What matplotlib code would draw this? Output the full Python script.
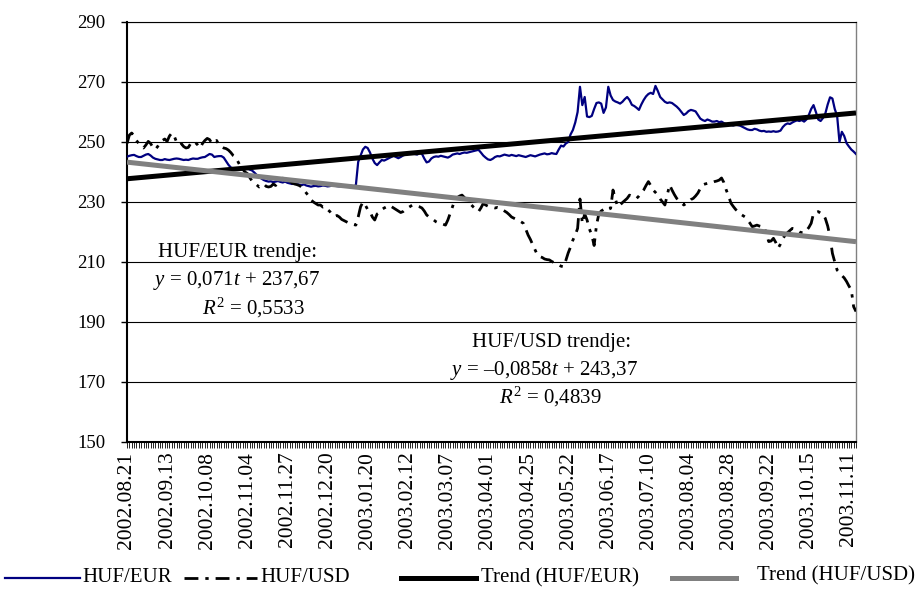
import numpy as np
import matplotlib
matplotlib.use("Agg")
import matplotlib.pyplot as plt
from matplotlib.lines import Line2D

plt.rcParams['font.family'] = ['Liberation Serif', 'DejaVu Serif']
plt.rcParams['mathtext.fontset'] = 'custom'
plt.rcParams['mathtext.rm'] = 'Liberation Serif'
plt.rcParams['mathtext.it'] = 'Liberation Serif:italic'

# ---------------- data ----------------
tick_labels = ["2002.08.21", "2002.09.13", "2002.10.08", "2002.11.04", "2002.11.27",
               "2002.12.20", "2003.01.20", "2003.02.12", "2003.03.07", "2003.04.01",
               "2003.04.25", "2003.05.22", "2003.06.17", "2003.07.10", "2003.08.04",
               "2003.08.28", "2003.09.22", "2003.10.15", "2003.11.11"]
label_step = 17

huf_eur = [
    245.1, 245.4, 245.6, 245.7, 245.3, 245.0, 245.0, 245.4, 245.8, 246.0,
    245.5, 244.8, 244.4, 244.2, 244.0, 244.0, 244.3, 244.1, 244.0, 244.2,
    244.4, 244.5, 244.4, 244.2, 244.0, 244.1, 244.0, 244.3, 244.5, 244.4,
    244.4, 244.7, 244.9, 245.0, 245.5, 246.0, 245.8, 245.0, 245.2, 245.3,
    245.3, 244.8, 243.6, 242.4, 241.5, 241.2, 241.0, 241.3, 241.1, 240.9,
    241.0, 241.2, 240.8, 240.5, 239.8, 239.0, 238.3, 237.8, 237.3, 237.0,
    236.8, 236.9, 236.6, 236.8, 237.0, 236.7, 236.5, 236.8, 236.4, 236.2,
    236.0, 236.3, 236.1, 235.8, 235.6, 235.9, 235.5, 235.3, 235.1, 235.3,
    235.4, 235.2, 235.3, 235.5, 235.4, 235.2, 235.3, 235.5, 235.4, 235.3,
    235.2, 235.4, 235.5, 235.3, 235.2, 235.4, 235.3, 235.5, 243.4, 245.5,
    247.5, 248.4, 248.0, 246.5, 244.5, 243.0, 242.3, 243.2, 244.0, 243.8,
    244.2, 244.6, 245.0, 245.4, 245.0, 244.6, 245.0, 245.5, 245.8, 246.0,
    246.2, 246.4, 246.0, 245.8, 246.3, 246.1, 244.5, 243.2, 243.5, 244.5,
    245.0, 245.2, 245.1, 245.4, 245.2, 245.0, 244.8, 245.2, 245.8, 246.0,
    246.2, 246.0, 246.3, 246.5, 246.4, 246.6, 246.8, 247.0, 247.2, 247.4,
    246.5, 245.5, 244.8, 244.2, 244.0, 244.4, 245.0, 245.3, 245.2, 245.5,
    245.8, 245.6, 245.4, 245.7, 245.5, 245.3, 245.6, 245.4, 245.2, 245.0,
    245.3, 245.6, 245.4, 245.2, 245.5, 245.8, 246.0, 246.2, 245.9, 246.0,
    246.3, 246.1, 246.0, 247.5, 248.8, 248.5, 249.5, 250.0, 252.5, 254.0,
    256.5, 260.0, 268.4, 262.3, 265.0, 258.5, 258.3, 258.7, 261.0, 263.0,
    263.2, 262.8, 259.7, 261.5, 268.4, 265.5, 264.0, 263.5, 263.2, 262.8,
    263.4, 264.3, 265.0, 264.0, 262.4, 262.0, 261.4, 260.7, 262.5, 264.0,
    265.2, 266.0, 266.4, 266.0, 268.7, 267.0, 265.0, 264.2, 263.4, 263.0,
    263.2, 263.0, 262.4, 261.8, 261.0, 260.0, 259.0, 259.5, 260.3, 260.7,
    260.5, 260.2, 259.0, 257.8, 257.3, 257.0, 257.5, 257.2, 256.8, 256.8,
    257.0, 256.6, 256.8, 256.3, 256.0, 255.7, 255.7, 255.5, 255.8, 255.6,
    255.4, 255.0, 254.6, 254.2, 254.0, 254.0, 254.4, 254.2, 253.8, 253.6,
    253.7, 253.4, 253.5, 253.4, 253.6, 253.4, 253.5, 253.8, 255.0, 255.8,
    256.2, 256.0, 256.5, 256.9, 257.2, 257.0, 257.3, 256.8, 257.5, 259.0,
    261.0, 262.3, 260.0, 257.5, 257.0, 258.0, 259.5, 262.5, 264.9, 264.5,
    261.0, 258.7, 250.0, 253.4, 252.0, 249.6, 248.5, 247.5, 246.8, 246.0,
]

huf_usd = [
    249.5, 252.3, 253.0, 252.0, 250.5, 249.5, 248.5, 248.0, 249.0, 250.2,
    249.5, 248.2, 247.5, 248.5, 249.8, 250.5, 251.0, 250.2, 252.0, 253.0,
    252.0, 250.0, 249.0, 249.5, 248.5, 248.0, 248.2, 249.5, 250.2, 249.8,
    249.0, 248.0, 249.5, 250.5, 251.2, 250.8, 249.5, 250.0, 250.5, 249.0,
    248.5, 248.0, 247.8, 247.3, 246.5, 245.5, 245.0, 243.5, 242.0, 241.0,
    240.0, 239.5, 238.2, 237.0, 236.2, 235.7, 235.0, 235.5, 236.0, 235.2,
    235.0, 235.2, 236.0, 235.5, 236.5, 237.0, 237.8, 238.4, 237.8, 237.0,
    236.3, 236.0, 235.8, 235.5, 235.0, 234.0, 233.0, 232.0, 230.7, 230.0,
    229.5, 229.0, 229.0, 228.3, 228.5, 227.5, 226.8, 225.7, 225.2, 225.5,
    225.0, 224.2, 223.8, 223.4, 223.0, 222.8, 222.5, 222.3, 225.0, 228.4,
    230.0, 229.0, 227.5, 226.8, 225.0, 224.0, 226.0, 226.5, 227.5, 228.0,
    228.4, 228.0, 228.5, 228.0, 227.5, 227.0, 226.5, 226.8, 227.5, 228.0,
    228.5, 229.0, 228.8, 228.6, 228.4, 228.0, 227.0, 225.7, 225.0, 224.5,
    224.0, 223.4, 223.0, 222.8, 222.6, 222.3, 224.0, 226.2, 228.5, 230.7,
    231.5, 232.0, 232.3, 231.5, 230.5, 229.5, 229.0, 228.2, 227.5, 226.8,
    228.0, 229.5, 229.0, 228.6, 228.4, 228.2, 228.0, 228.2, 228.0, 227.5,
    227.0, 226.5, 225.8, 225.0, 224.6, 224.2, 223.8, 223.4, 222.9, 221.0,
    219.0, 217.5, 215.7, 214.0, 212.3, 211.8, 211.5, 211.0, 210.8, 210.7,
    210.2, 209.8, 209.5, 209.0, 208.6, 208.4, 210.5, 213.0, 215.0, 217.3,
    219.0, 221.2, 231.0, 222.9, 226.0, 224.0, 221.0, 219.0, 215.5, 222.3,
    226.0, 227.0, 227.5, 227.0, 227.5, 227.9, 234.0, 231.0, 228.4, 229.0,
    229.8, 230.5, 231.2, 232.3, 231.8, 231.5, 231.2, 232.0, 233.0, 234.0,
    235.5, 236.8, 235.5, 234.0, 233.2, 232.3, 231.0, 230.0, 229.0, 232.3,
    235.7, 234.0, 232.5, 231.2, 230.5, 229.8, 229.0, 229.5, 230.0, 230.8,
    231.2, 232.0, 233.0, 234.5, 235.7, 236.0, 236.2, 236.2, 236.5, 236.8,
    237.0, 237.3, 238.0, 236.5, 234.0, 232.0, 229.6, 228.5, 227.5, 226.8,
    226.0, 225.5, 225.0, 224.0, 223.0, 221.8, 222.0, 222.3, 222.0, 221.8,
    221.8, 219.5, 216.8, 217.0, 217.9, 216.5, 214.6, 216.0, 217.8, 219.0,
    219.8, 220.5, 221.2, 221.0, 220.5, 220.0, 219.8, 219.7, 220.5, 221.5,
    222.9, 226.2, 226.5, 226.8, 226.3, 226.0, 224.5, 222.0, 218.4, 212.9,
    210.0, 207.3, 206.5, 205.5, 204.7, 203.5, 202.0, 200.7, 195.1, 193.5,
]

eur_slope, eur_icpt = 0.071, 237.67
usd_slope, usd_icpt = -0.0858, 243.37

series_labels = ["HUF/EUR", "HUF/USD", "Trend (HUF/EUR)", "Trend (HUF/USD)"]

# ---------------- styles ----------------
EUR_COL, USD_COL, TEUR_COL, TUSD_COL = '#000080', 'black', 'black', '#808080'
DASHDOT = (0, (5, 2.5, 1.2, 2.5))

W, H = 917, 589
fig = plt.figure(figsize=(W / 100, H / 100), dpi=100)
ax = fig.add_axes([127 / W, 1 - 442 / H, (856 - 127) / W, (442 - 22) / H])

n = len(huf_eur)
x = np.arange(n)
t = x + 1

ax.plot(x, huf_eur, color=EUR_COL, lw=1.6, zorder=3)
ax.plot(x, huf_usd, color=USD_COL, lw=2.0, linestyle=DASHDOT, zorder=3)
ax.plot(x, eur_slope * t + eur_icpt, color=TEUR_COL, lw=3.6, solid_capstyle='butt', zorder=4)
ax.plot(x, usd_slope * t + usd_icpt, color=TUSD_COL, lw=3.6, solid_capstyle='butt', zorder=5)

ax.set_xlim(0, n - 1)
ax.set_ylim(150, 290)
ax.set_yticks(np.arange(150, 291, 20))
ax.yaxis.grid(True, color='black', lw=0.8)
ax.set_axisbelow(True)

major = np.arange(len(tick_labels)) * label_step
ax.set_xticks(major)
ax.set_xticklabels(tick_labels, rotation=90, fontsize=15.5)
ax.set_xticks(x, minor=True)
ax.tick_params(axis='x', which='both', direction='out', length=4, width=0.6, pad=3)
ax.tick_params(axis='y', direction='out', length=4.5, width=1.0, labelsize=13.5, pad=11)

for s in ['left', 'bottom']:
    ax.spines[s].set_linewidth(1.5)
    ax.spines[s].set_color('black')
ax.spines['top'].set_linewidth(0.8)
ax.spines['right'].set_color('#808080')
ax.spines['right'].set_linewidth(1.0)

# ---------------- annotations ----------------
fs = 15
def ptext(px, py, s, ha='center', size=fs):
    fig.text(px / W, 1 - py / H, s, fontsize=size, ha=ha, va='center')

ptext(238, 253, "HUF/EUR trendje:")
ptext(237, 281, "$y$ = 0,071$t$ + 237,67")
ptext(253, 308, "$R^2$ = 0,5533")
ptext(552, 343, "HUF/USD trendje:")
ptext(544, 370, "$y$ = \u20130,0858$t$ + 243,37")
ptext(550, 397, "$R^2$ = 0,4839")

# ---------------- legend (manual row) ----------------
leg_y = 578
leg_items = [
    (dict(color=EUR_COL, lw=1.6), 5, 80, 82, 578),
    (dict(color=USD_COL, lw=2.0, linestyle=DASHDOT), 184, 257, 260, 578),
    (dict(color=TEUR_COL, lw=3.6), 401, 476, 481, 578),
    (dict(color=TUSD_COL, lw=3.6), 672, 736, 757, 576),
]
for (style, x0, x1, tx, ty), lab in zip(leg_items, series_labels):
    fig.add_artist(Line2D([x0 / W, x1 / W], [1 - leg_y / H] * 2, transform=fig.transFigure, **style))
    fig.text(tx / W, 1 - ty / H, lab, fontsize=15, ha='left', va='center')

fig.savefig("out.png", dpi=100)
